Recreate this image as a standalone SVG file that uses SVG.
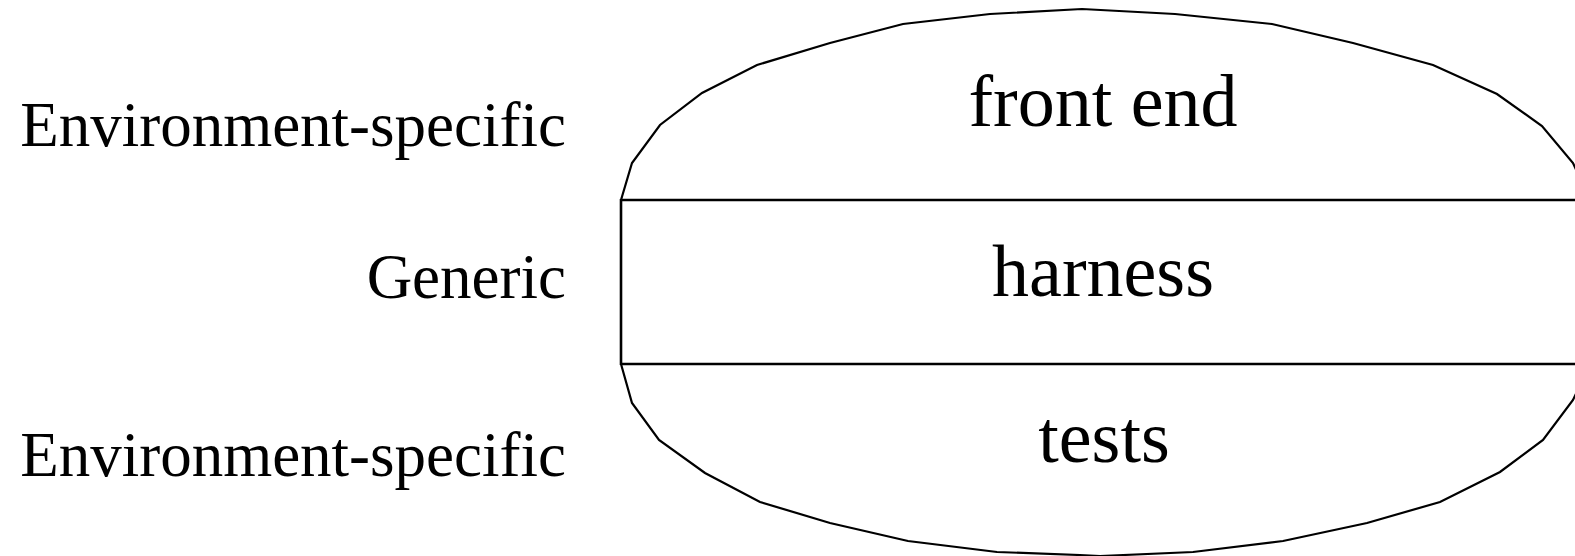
<svg xmlns="http://www.w3.org/2000/svg" width="1575" height="556" viewBox="0 0 1575 556">
<style>
.lbl{font-family:"Liberation Serif","Times New Roman",serif;font-size:63px;fill:#000;text-anchor:end}
.in{font-family:"Liberation Serif","Times New Roman",serif;font-size:74px;fill:#000;text-anchor:middle}
.arc{fill:none;stroke:#000;stroke-width:2.2;stroke-linejoin:miter}
.div{fill:none;stroke:#000;stroke-width:2.6}
</style>
<rect width="1575" height="556" fill="#fff"/>
<g id="shape">
<path class="arc" d="M621,200 L632,163 L660,125 L702,93 L757,65 L830,43 L903,24 L990,14 L1082,9 L1175,14 L1272,24 L1353,43 L1433,65 L1497,94 L1542,126 L1573,163 L1590,200"/>
<path class="arc" d="M621,364 L632,403 L659,440 L705,473 L760,502 L830,523 L908,541 L997,552 L1080,555 L1100,556 L1193,552 L1283,541 L1367,523 L1440,502 L1500,472 L1543,440 L1573,400 L1590,364"/>
</g>
<g id="connectors">
<line class="div" x1="621" y1="200" x2="1600" y2="200"/>
<line class="div" x1="621" y1="364" x2="1600" y2="364"/>
<line class="div" x1="621" y1="199" x2="621" y2="365"/>
</g>
<g id="front-end"><text class="in" x="1103" y="126">front end</text></g>
<g id="harness"><text class="in" x="1103" y="296">harness</text></g>
<g id="tests"><text class="in" x="1104" y="462">tests</text></g>
<g id="label-top"><text class="lbl" x="566" y="146">Environment-specific</text></g>
<g id="label-mid"><text class="lbl" x="566" y="298">Generic</text></g>
<g id="label-bot"><text class="lbl" x="566" y="476">Environment-specific</text></g>
</svg>
